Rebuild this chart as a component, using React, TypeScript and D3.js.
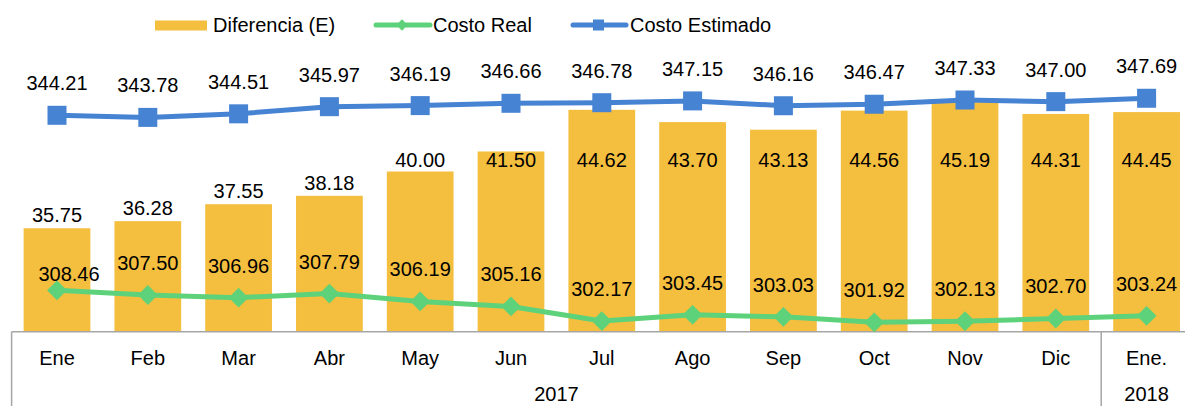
import React from "react";
import { scaleBand, scaleLinear, line } from "d3";

const categories = ["Ene", "Feb", "Mar", "Abr", "May", "Jun", "Jul", "Ago", "Sep", "Oct", "Nov", "Dic", "Ene."];
const years = [
  { label: "2017", from: "Ene", to: "Dic" },
  { label: "2018", from: "Ene.", to: "Ene." },
];
const diferencia = [35.75, 36.28, 37.55, 38.18, 40.0, 41.5, 44.62, 43.7, 43.13, 44.56, 45.19, 44.31, 44.45];
const costoReal = [308.46, 307.5, 306.96, 307.79, 306.19, 305.16, 302.17, 303.45, 303.03, 301.92, 302.13, 302.7, 303.24];
const costoEstimado = [344.21, 343.78, 344.51, 345.97, 346.19, 346.66, 346.78, 347.15, 346.16, 346.47, 347.33, 347.0, 347.69];

const W = 1185;
const H = 406;
const FONT = "'Liberation Sans', Arial, sans-serif";
const BAR = "#F4BE3F";
const GREEN = "#5ED27A";
const BLUE = "#4683D3";
const AXIS = "#A6A6A6";

const left = 11.6;
const step = 90.8;
const bottom = 331.7;
const top = 38;

const App = () => {
  const x = scaleBand<string>()
    .domain(categories)
    .range([left, left + step * categories.length])
    .paddingInner(0.265)
    .paddingOuter(0.1325);
  const cx = (c: string) => (x(c) as number) + x.bandwidth() / 2;
  const yBar = scaleLinear().domain([28, 50]).range([bottom, top]);
  const yLine = scaleLinear().domain([300, 360]).range([bottom, top]);

  const path = line<number>()
    .x((_, i) => cx(categories[i]))
    .y((d) => yLine(d));

  const edge = (c: string) => (x(c) as number) - (x.step() * x.paddingInner()) / 2;

  return (
    <svg width={W} height={H} style={{ position: "absolute", left: 0, top: 0 }} fontFamily={FONT}>
      <rect width={W} height={H} fill="#fff" />

      {/* bars */}
      {diferencia.map((d, i) => (
        <rect
          key={"b" + i}
          x={x(categories[i])}
          y={yBar(d)}
          width={x.bandwidth()}
          height={bottom - yBar(d)}
          fill={BAR}
        />
      ))}

      {/* category axis box */}
      <line x1={left} x2={W} y1={bottom} y2={bottom} stroke={AXIS} strokeWidth={1.5} />
      {years.map((g) => (
        <line key={"v" + g.label} x1={edge(g.from)} x2={edge(g.from)} y1={bottom} y2={H} stroke={AXIS} strokeWidth={1.5} />
      ))}
      {categories.map((c) => (
        <text key={"c" + c} x={cx(c)} y={358} fontSize={20} textAnchor="middle" dominantBaseline="central">
          {c}
        </text>
      ))}
      {years.map((g) => (
        <text
          key={"y" + g.label}
          x={(cx(g.from) + cx(g.to)) / 2}
          y={393.5}
          fontSize={20}
          textAnchor="middle"
          dominantBaseline="central"
        >
          {g.label}
        </text>
      ))}

      {/* lines */}
      <path d={path(costoReal) || ""} fill="none" stroke={GREEN} strokeWidth={5} strokeLinejoin="round" />
      <path d={path(costoEstimado) || ""} fill="none" stroke={BLUE} strokeWidth={5} strokeLinejoin="round" />
      {costoReal.map((d, i) => (
        <rect
          key={"g" + i}
          x={cx(categories[i]) - 7}
          y={yLine(d) - 7}
          width={14}
          height={14}
          fill={GREEN}
          transform={`rotate(45 ${cx(categories[i])} ${yLine(d)})`}
        />
      ))}
      {costoEstimado.map((d, i) => (
        <rect key={"s" + i} x={cx(categories[i]) - 9.5} y={yLine(d) - 9.5} width={19} height={19} fill={BLUE} />
      ))}

      {/* data labels */}
      {diferencia.map((d, i) => (
        <text
          key={"lb" + i}
          x={cx(categories[i])}
          y={Math.max(yBar(d) - 13, 160)}
          fontSize={20}
          textAnchor="middle"
          dominantBaseline="central"
        >
          {d.toFixed(2)}
        </text>
      ))}
      {costoReal.map((d, i) => (
        <text
          key={"lr" + i}
          x={cx(categories[i]) + (i === 0 ? 12 : 0)}
          y={yLine(d) - (i === 0 ? 16 : 32)}
          fontSize={20}
          textAnchor="middle"
          dominantBaseline="central"
        >
          {d.toFixed(2)}
        </text>
      ))}
      {costoEstimado.map((d, i) => (
        <text
          key={"le" + i}
          x={cx(categories[i])}
          y={yLine(d) - 32}
          fontSize={20}
          textAnchor="middle"
          dominantBaseline="central"
        >
          {d.toFixed(2)}
        </text>
      ))}

      {/* legend */}
      <rect x={155} y={20.5} width={52} height={10} fill={BAR} />
      <text x={213} y={25} fontSize={20} dominantBaseline="central">Diferencia (E)</text>
      <line x1={376} x2={430} y1={25} y2={25} stroke={GREEN} strokeWidth={5} strokeLinecap="round" />
      <rect x={398} y={21} width={8} height={8} fill={GREEN} transform="rotate(45 402 25)" />
      <text x={433} y={25} fontSize={20} dominantBaseline="central">Costo Real</text>
      <line x1={573} x2={626} y1={25} y2={25} stroke={BLUE} strokeWidth={5} strokeLinecap="round" />
      <rect x={593} y={19.5} width={11} height={11} fill={BLUE} />
      <text x={630} y={25} fontSize={20} dominantBaseline="central">Costo Estimado</text>
    </svg>
  );
};

export default App;
